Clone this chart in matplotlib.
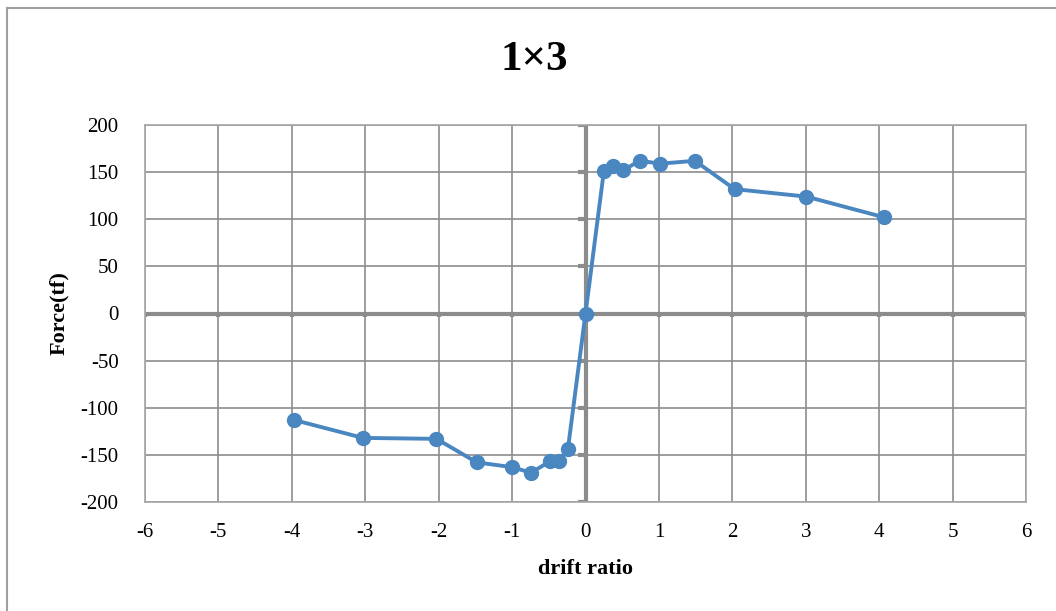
import matplotlib
matplotlib.use('Agg')
import numpy as np
import matplotlib.pyplot as plt
from matplotlib.lines import Line2D

# drift ratio / force data
drift = [-3.97, -3.03, -2.03, -1.48, -1.0, -0.74, -0.49, -0.36, -0.24, 0.0,
         0.25, 0.38, 0.51, 0.74, 1.02, 1.49, 2.03, 3.01, 4.07]
force = [-113, -132, -133, -158, -163, -169, -157, -156, -144, 0,
         151, 156, 152, 162, 159, 162, 132, 124, 102]

x_ticks = [-6, -5, -4, -3, -2, -1, 0, 1, 2, 3, 4, 5, 6]
y_ticks = [-200, -150, -100, -50, 0, 50, 100, 150, 200]

plt.rcParams['font.family'] = ['Liberation Serif', 'DejaVu Serif']
plt.rcParams['axes.unicode_minus'] = False

fig = plt.figure(figsize=(10.56, 6.11), dpi=100)
ax = fig.add_axes([145/1056, 1-502/611, (1026-145)/1056, (502-125)/611])

grid_col = '#8c8c8c'
ax.set_xlim(-6, 6)
ax.set_ylim(-200, 200)
ax.set_xticks(x_ticks)
ax.set_yticks(y_ticks)
ax.grid(True, color=grid_col, linewidth=1.2)
ax.set_axisbelow(True)
for s in ax.spines.values():
    s.set_color('#a6a6a6')
    s.set_linewidth(1.2)
ax.tick_params(length=0, labelsize=15)
ax.tick_params(axis='y', pad=19)
ax.tick_params(axis='x', pad=15)

# thick zero axes
ax.axhline(0, color=grid_col, linewidth=3, zorder=1.5)
ax.axvline(0, color=grid_col, linewidth=3, zorder=1.5)
# small tick marks on the zero axes
for xv in x_ticks:
    ax.plot([xv, xv], [0, -4], color=grid_col, linewidth=3, zorder=1.5,
            solid_capstyle='butt')
for yv in y_ticks:
    ax.plot([0, -0.1], [yv, yv], color=grid_col, linewidth=3, zorder=1.5,
            solid_capstyle='butt')

ax.plot(drift, force, color='#4a86c0', linewidth=2.8, marker='o',
        markersize=10, zorder=3)

ax.set_xlabel('drift ratio', fontsize=16, fontweight='bold', labelpad=12)
ax.set_ylabel('Force(tf)', fontsize=16, fontweight='bold', labelpad=8)
fig.text(0.506, 1-60/611, '1\u00d73', ha='center', va='center',
         fontsize=31, fontweight='bold')

# chart border (top and left visible)
fig.add_artist(Line2D([7/1056, 1], [1-8/611, 1-8/611], color='#a0a0a0',
                      linewidth=1.5, transform=fig.transFigure))
fig.add_artist(Line2D([7/1056, 7/1056], [0, 1-8/611], color='#a0a0a0',
                      linewidth=1.5, transform=fig.transFigure))

fig.savefig('out.png', dpi=100)
